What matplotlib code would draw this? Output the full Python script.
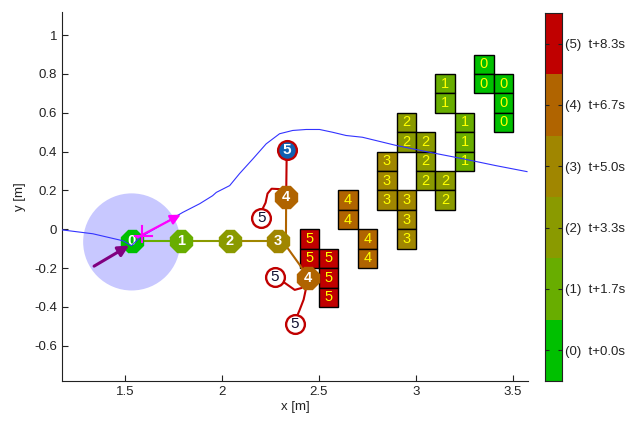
import matplotlib
matplotlib.use('Agg')
import matplotlib.pyplot as plt
from matplotlib.patches import Rectangle, Circle

plt.rcParams['font.family'] = ['Liberation Sans', 'DejaVu Sans']

# step colours (0) .. (5)
step_colors = ['#00c000', '#68ad00', '#8a9a00', '#a08600', '#b06400', '#c00000']
step_labels = ['(0)  t+0.0s', '(1)  t+1.7s', '(2)  t+3.3s', '(3)  t+5.0s', '(4)  t+6.7s', '(5)  t+8.3s']

# occupied grid cells (lower-left corners, 0.1 m cells) per step
cell_x = [3.3, 3.3, 3.4, 3.4, 3.4,
          3.1, 3.1, 3.2, 3.2, 3.2,
          2.9, 2.9, 3.0, 3.0, 3.0, 3.1, 3.1,
          2.8, 2.8, 2.8, 2.9, 2.9, 2.9,
          2.6, 2.6, 2.7, 2.7,
          2.4, 2.4, 2.5, 2.5, 2.5]
cell_y = [0.8, 0.7, 0.7, 0.6, 0.5,
          0.7, 0.6, 0.5, 0.4, 0.3,
          0.5, 0.4, 0.4, 0.3, 0.2, 0.2, 0.1,
          0.3, 0.2, 0.1, 0.1, 0.0, -0.1,
          0.1, 0.0, -0.1, -0.2,
          -0.1, -0.2, -0.2, -0.3, -0.4]
cell_t = [0]*5 + [1]*5 + [2]*7 + [3]*6 + [4]*4 + [5]*5
cell_size = 0.1

# observed path (blue)
path_x = [1.176, 1.335, 1.490, 1.534, 1.577, 1.680, 1.798, 1.886, 1.952, 1.971, 2.040,
          2.091, 2.160, 2.228, 2.297, 2.365, 2.434, 2.503, 2.569, 2.640, 2.724, 2.897,
          3.068, 3.238, 3.411, 3.572]
path_y = [-0.003, -0.023, -0.059, -0.085, -0.042, 0.018, 0.087, 0.132, 0.173, 0.190, 0.225,
          0.287, 0.363, 0.440, 0.492, 0.509, 0.514, 0.514, 0.500, 0.483, 0.474, 0.432,
          0.397, 0.364, 0.328, 0.297]

# predicted tree nodes
node_x = [1.535, 1.79, 2.04, 2.29, 2.331, 2.442]
node_y = [-0.062, -0.062, -0.062, -0.062, 0.164, -0.249]
node_t = [0, 1, 2, 3, 4, 4]

# branches: (x list, y list, step colour)
branches = [
    ([1.535, 1.79], [-0.062, -0.062], 1),
    ([1.79, 2.04], [-0.062, -0.062], 2),
    ([2.04, 2.29], [-0.062, -0.062], 3),
    ([2.29, 2.33, 2.331], [-0.062, -0.03, 0.164], 4),
    ([2.29, 2.336, 2.403, 2.442], [-0.062, -0.093, -0.186, -0.249], 4),
    ([2.331, 2.334], [0.164, 0.409], 5),
    ([2.331, 2.297, 2.256, 2.235, 2.225, 2.205, 2.203], [0.164, 0.207, 0.209, 0.184, 0.137, 0.096, 0.058], 5),
    ([2.442, 2.411, 2.375, 2.324, 2.272], [-0.249, -0.302, -0.312, -0.276, -0.245], 5),
    ([2.442, 2.432, 2.421, 2.401, 2.375], [-0.249, -0.311, -0.362, -0.414, -0.476], 5),
]

leaf_x = [2.203, 2.272, 2.375]
leaf_y = [0.058, -0.245, -0.487]
best_x, best_y = 2.334, 0.409

robot_x, robot_y, robot_r = 1.535, -0.065, 0.25

fig = plt.figure(figsize=(6.32, 4.22), dpi=100)
ax = fig.add_axes([0.0981, 0.0972, 0.7373, 0.8744])

ax.add_patch(Circle((robot_x, robot_y), robot_r, facecolor='#c8c8ff', edgecolor='none', zorder=1))

for x, y, t in zip(cell_x, cell_y, cell_t):
    ax.add_patch(Rectangle((x, y), cell_size, cell_size, facecolor=step_colors[t],
                           edgecolor='black', linewidth=1, zorder=2))
    ax.text(x + cell_size/2, y + cell_size/2, str(t), color='#ffff00', fontsize=10.5,
            ha='center', va='center', zorder=3)

for bx, by, t in branches:
    ax.plot(bx, by, color=step_colors[t], linewidth=1.5, zorder=4)

for x, y, t in zip(node_x, node_y, node_t):
    ax.plot(x, y, marker='8', markersize=16.5, color=step_colors[t], markeredgecolor=step_colors[t], zorder=5)
    ax.text(x, y, str(t), color='white', fontsize=10.5, fontweight='bold', ha='center', va='center', zorder=6)

for x, y in zip(leaf_x, leaf_y):
    ax.plot(x, y, marker='o', markersize=13.5, markerfacecolor='white', markeredgecolor='#c00000',
            markeredgewidth=1.7, zorder=5)
    ax.text(x, y, '5', color='#101030', fontsize=11, ha='center', va='center', zorder=6)

ax.plot(best_x, best_y, marker='o', markersize=13.5, markerfacecolor='#1060b0', markeredgecolor='#c00000',
        markeredgewidth=1.7, zorder=5)
ax.text(best_x, best_y, '5', color='white', fontsize=11, fontweight='bold', ha='center', va='center', zorder=6)

ax.plot(path_x, path_y, color='#3333ff', linewidth=0.8, zorder=7)

# velocity arrows
ax.annotate('', xy=(1.534, -0.076), xytext=(1.329, -0.197),
            arrowprops=dict(arrowstyle='-|>', color='#800080', lw=2.2, mutation_scale=16), zorder=8)
ax.annotate('', xy=(1.800, 0.082), xytext=(1.551, -0.049),
            arrowprops=dict(arrowstyle='-|>', color='#ff00ff', lw=1.6, mutation_scale=15), zorder=8)
ax.plot([1.586, 1.586], [0.018, -0.065], color='#ff00ff', linewidth=1.5, zorder=8)
ax.plot([1.551, 1.639], [-0.034, -0.034], color='#ff00ff', linewidth=1.5, zorder=8)

ax.set_xlim(1.176, 3.577)
ax.set_ylim(-0.781, 1.119)
ax.set_xticks([1.5, 2, 2.5, 3, 3.5])
ax.set_xticklabels(['1.5', '2', '2.5', '3', '3.5'])
ax.set_yticks([-0.6, -0.4, -0.2, 0, 0.2, 0.4, 0.6, 0.8, 1])
ax.set_yticklabels(['-0.6', '-0.4', '-0.2', '0', '0.2', '0.4', '0.6', '0.8', '1'])
ax.spines['top'].set_visible(False)
ax.spines['right'].set_visible(False)
for s in ['left', 'bottom']:
    ax.spines[s].set_color('#222222')
ax.tick_params(direction='in', length=4, labelsize=9.5, colors='#222222')
ax.set_xlabel('x [m]', fontsize=9.5, color='#222222', labelpad=2)
ax.set_ylabel('y [m]', fontsize=9.5, color='#222222', labelpad=6)

# colour bar
cax = fig.add_axes([0.8623, 0.0972, 0.0269, 0.8720])
for k, c in enumerate(step_colors):
    cax.add_patch(Rectangle((0, k), 1, 1, facecolor=c, edgecolor='none'))
cax.set_xlim(0, 1)
cax.set_ylim(0, 6)
cax.set_xticks([])
cax.set_yticks([k + 0.5 for k in range(6)])
cax.set_yticklabels(step_labels)
cax.yaxis.tick_right()
cax.tick_params(axis='y', direction='in', length=3, left=True, right=True, labelsize=9.5,
                colors='#222222', pad=2)
for s in cax.spines.values():
    s.set_color('#222222')

fig.savefig('out.png', dpi=100)
